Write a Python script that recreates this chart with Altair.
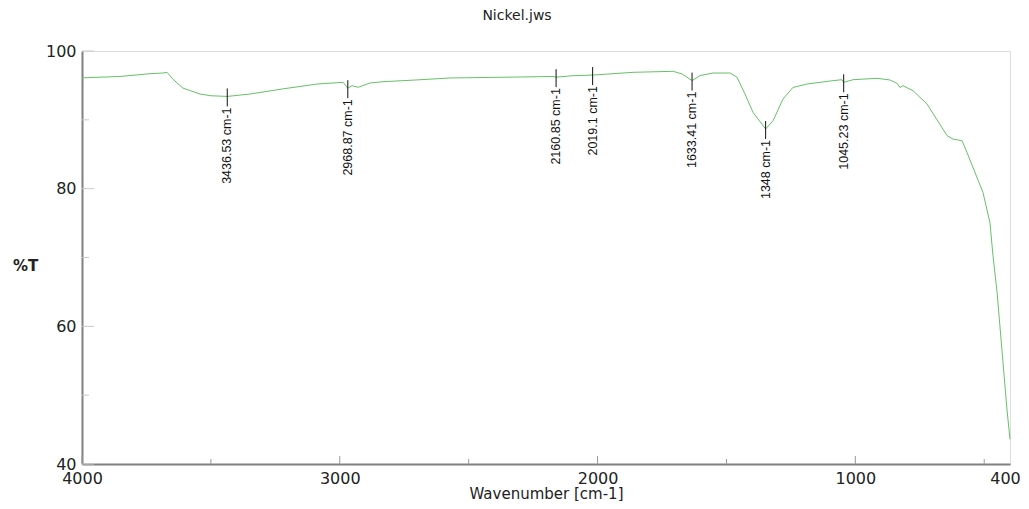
import altair as alt
import pandas as pd

# Spectrum (wavenumber cm-1, %T)
wavenumber = [4000, 3853, 3736, 3686, 3670, 3647, 3608, 3542, 3500, 3436.5, 3348, 3220,
              3088, 2987, 2969, 2953, 2929, 2883, 2832, 2700, 2572, 2378, 2173, 2161,
              2100, 2019, 1863, 1707, 1672, 1633, 1603, 1552, 1486, 1459, 1428, 1397,
              1348, 1319, 1281, 1242, 1188, 1087, 1052, 1045, 1009, 916, 866, 838, 827,
              815, 776, 722, 644, 621, 586, 567, 505, 478, 466, 450, 412, 400]
transmittance = [96.1, 96.3, 96.7, 96.8, 96.9, 95.9, 94.6, 93.75, 93.5, 93.4, 93.75, 94.5,
                 95.2, 95.45, 94.6, 94.96, 94.73, 95.35, 95.54, 95.8, 96.08, 96.18, 96.3, 96.2,
                 96.4, 96.5, 96.9, 97.05, 96.66, 95.7, 96.42, 96.8, 96.8, 96.2, 93.75, 91.09,
                 88.67, 89.87, 93.0, 94.7, 95.2, 95.69, 95.83, 95.45, 95.83, 96.03, 95.79, 95.3, 94.7,
                 94.96, 94.23, 92.3, 87.7, 87.2, 86.97, 85.28, 79.47, 75.1, 70.26, 64.9, 48.0, 43.6]

# Peak annotations
peak_wn = [3436.53, 2968.87, 2160.85, 2019.1, 1633.41, 1348, 1045.23]
peak_t = [93.4, 94.6, 96.2, 96.5, 95.7, 88.67, 95.45]
peak_labels = ["3436.53 cm-1", "2968.87 cm-1", "2160.85 cm-1", "2019.1 cm-1",
               "1633.41 cm-1", "1348 cm-1", "1045.23 cm-1"]

x_major = [4000, 3000, 2000, 1000, 400]
x_major_ticks = [4000, 3000, 2000, 1000]
x_minor_ticks = [3500, 2500, 1500, 500]
y_major = [40, 60, 80, 100]
y_minor = [50, 70, 90]

spec = pd.DataFrame({"wn": wavenumber, "T": transmittance})
peaks = pd.DataFrame({"wn": peak_wn, "T": peak_t, "label": peak_labels})

xscale = alt.Scale(domain=[4000, 400], zero=False, nice=False)
yscale = alt.Scale(domain=[40, 100], zero=False, nice=False)

FONT = "DejaVu Sans"

line = alt.Chart(spec).mark_line(color="#66c166", strokeWidth=1).encode(
    x=alt.X("wn:Q", scale=xscale,
            axis=alt.Axis(values=x_major, format="d", ticks=False, grid=False,
                          labelFlush=False, labelOverlap=False, labelPadding=6,
                          labelOffset={"expr": "datum.value == 400 ? -5 : 0"},
                          domainColor="#808080", domainWidth=2, labelFont=FONT,
                          labelFontSize=16, labelColor="#222222",
                          title="Wavenumber [cm-1]", titleFont=FONT, titleFontSize=15,
                          titleFontWeight="normal", titleColor="#222222", titlePadding=0)),
    y=alt.Y("T:Q", scale=yscale,
            axis=alt.Axis(values=y_major, format="d", ticks=False, grid=False,
                          labelPadding=6, domainColor="#808080", domainWidth=2,
                          labelFont=FONT, labelFontSize=16, labelColor="#222222",
                          title="%T", titleFont=FONT, titleFontSize=15,
                          titleFontWeight="bold", titleColor="#222222", titleAngle=0,
                          titleAlign="center", titleBaseline="middle",
                          titleX=-57, titleY=214)),
)

xmaj = alt.Chart(pd.DataFrame({"v": x_major_ticks})).mark_rule(
    color="#999999", strokeWidth=1, y2Offset=-8).encode(
    x=alt.X("v:Q", scale=xscale), y=alt.datum(40, scale=yscale), y2=alt.datum(40))
xmin = alt.Chart(pd.DataFrame({"v": x_minor_ticks})).mark_rule(
    color="#999999", strokeWidth=1, y2Offset=-5).encode(
    x=alt.X("v:Q", scale=xscale), y=alt.datum(40, scale=yscale), y2=alt.datum(40))
ymaj = alt.Chart(pd.DataFrame({"v": y_major})).mark_rule(
    color="#c8c8c8", strokeWidth=1, x2Offset=12).encode(
    y=alt.Y("v:Q", scale=yscale), x=alt.datum(4000, scale=xscale), x2=alt.datum(4000))
ymin = alt.Chart(pd.DataFrame({"v": y_minor})).mark_rule(
    color="#c8c8c8", strokeWidth=1, x2Offset=7).encode(
    y=alt.Y("v:Q", scale=yscale), x=alt.datum(4000, scale=xscale), x2=alt.datum(4000))

peak_rules = alt.Chart(peaks).mark_rule(color="#111111", strokeWidth=1,
                                        yOffset=-8, y2Offset=10).encode(
    x=alt.X("wn:Q", scale=xscale), y=alt.Y("T:Q", scale=yscale), y2="T:Q")

peak_text = alt.Chart(peaks).mark_text(angle=270, align="right", baseline="middle",
                                       yOffset=11, font="Liberation Sans", fontSize=12.5,
                                       color="#111111").encode(
    x=alt.X("wn:Q", scale=xscale), y=alt.Y("T:Q", scale=yscale), text="label:N")

chart = alt.layer(xmin, xmaj, ymin, ymaj, line, peak_rules, peak_text).properties(
    width=928, height=413,
    title=alt.TitleParams("Nickel.jws", font=FONT, fontSize=14, fontWeight="normal",
                          color="#222222", offset=20, dx=-29),
    autosize=alt.AutoSizeParams(type="none"),
    padding={"left": 74, "top": 43, "right": 11, "bottom": 37},
).configure_view(stroke="#c0c0c0", strokeWidth=1.5).configure(background="white")

chart.save("out.html", embed_options={"renderer": "svg", "actions": False})
